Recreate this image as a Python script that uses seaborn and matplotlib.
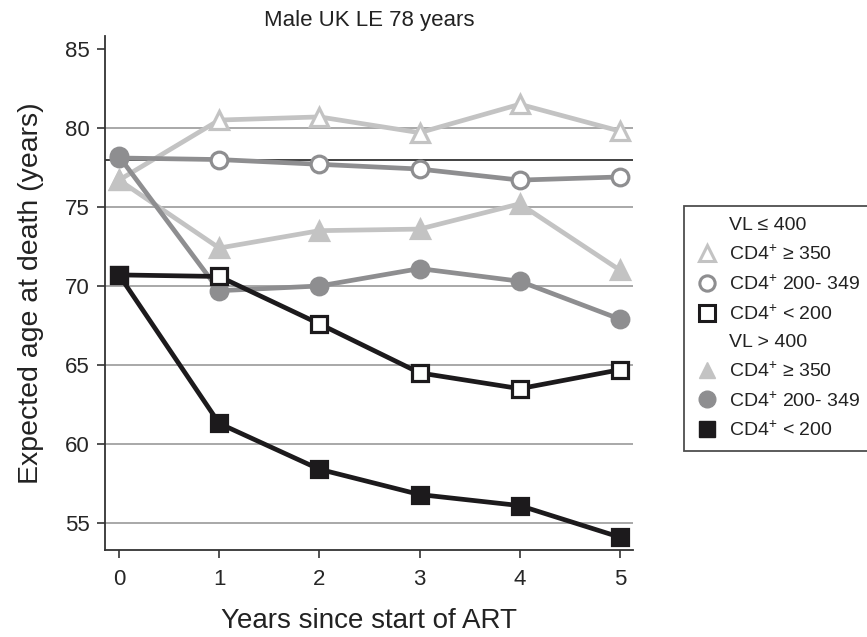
import matplotlib
matplotlib.use("Agg")
import matplotlib.pyplot as plt
import seaborn as sns
import pandas as pd
from matplotlib.lines import Line2D

years = [0, 1, 2, 3, 4, 5]
vl_low_cd4_high = [76.7, 80.5, 80.7, 79.7, 81.5, 79.8]
vl_low_cd4_mid = [78.1, 78.0, 77.7, 77.4, 76.7, 76.9]
vl_low_cd4_low = [70.7, 70.6, 67.6, 64.5, 63.5, 64.7]
vl_high_cd4_high = [76.7, 72.4, 73.5, 73.6, 75.2, 71.0]
vl_high_cd4_mid = [78.2, 69.7, 70.0, 71.1, 70.3, 67.9]
vl_high_cd4_low = [70.7, 61.3, 58.4, 56.8, 56.1, 54.1]
uk_le = 78
yticks = [55, 60, 65, 70, 75, 80, 85]

sns.set_style("white")
plt.rcParams['font.family'] = ['Liberation Sans', 'DejaVu Sans']
plt.rcParams['mathtext.fontset'] = 'custom'
plt.rcParams['mathtext.rm'] = 'Liberation Sans'

LIGHT = "#c3c3c3"
MID = "#8e8e90"
DARK = "#1c1a1c"

fig = plt.figure(figsize=(8.67, 6.37), dpi=100)
ax = fig.add_axes([105/867, 1-550/637, (633-105)/867, (550-36)/637])

for yv in yticks[:-1]:
    ax.axhline(yv, color="#9a9a9a", lw=1.2, zorder=0)
ax.axhline(uk_le, color="#333333", lw=1.3, zorder=0)

series = [
    (vl_low_cd4_high, LIGHT, "^", "white"),
    (vl_low_cd4_mid, MID, "o", "white"),
    (vl_low_cd4_low, DARK, "s", "white"),
    (vl_high_cd4_high, LIGHT, "^", None),
    (vl_high_cd4_mid, MID, "o", None),
    (vl_high_cd4_low, DARK, "s", None),
]
order = [0, 1, 3, 4, 2, 5]
for i in order:
    vals, col, mk, fc = series[i]
    df = pd.DataFrame({"x": years, "y": vals})
    sns.lineplot(data=df, x="x", y="y", ax=ax, color=col, lw=3.4,
                 marker=mk, markersize=12.5 if mk == "^" else 12,
                 markerfacecolor=fc if fc else col, markeredgecolor=col,
                 markeredgewidth=2.3, legend=False, zorder=3)

ax.set_xlim(-0.14, 5.13)
ax.set_ylim(53.29, 85.82)
ax.set_xticks(years)
ax.set_yticks(yticks)
ax.tick_params(axis="both", labelsize=16, direction="out", length=6,
               width=1.2, color="#333333", left=True, bottom=True)
ax.tick_params(axis="x", pad=8)
ax.tick_params(axis="y", pad=5)
for s in ["top", "right"]:
    ax.spines[s].set_visible(False)
for s in ["left", "bottom"]:
    ax.spines[s].set_color("#333333")
    ax.spines[s].set_linewidth(1.3)

ax.set_xlabel("Years since start of ART", fontsize=20, labelpad=13, color="#222222")
ax.set_ylabel("Expected age at death (years)", fontsize=20.5, labelpad=15, color="#222222")
ax.set_title("Male UK LE 78 years", fontsize=16, pad=7, color="#222222")

blank = Line2D([], [], linestyle="none", marker=None)
handles = [
    blank,
    Line2D([], [], linestyle="none", marker="^", markersize=12, mfc="white", mec=LIGHT, mew=2.2),
    Line2D([], [], linestyle="none", marker="o", markersize=11, mfc="white", mec=MID, mew=2.2),
    Line2D([], [], linestyle="none", marker="s", markersize=11, mfc="white", mec=DARK, mew=2.2),
    blank,
    Line2D([], [], linestyle="none", marker="^", markersize=12, mfc=LIGHT, mec=LIGHT),
    Line2D([], [], linestyle="none", marker="o", markersize=12, mfc=MID, mec=MID),
    Line2D([], [], linestyle="none", marker="s", markersize=12, mfc=DARK, mec=DARK),
]
labels = [
    "VL ≤ 400",
    r"CD4$^{+}$ ≥ 350",
    r"CD4$^{+}$ 200- 349",
    r"CD4$^{+}$ < 200",
    "VL > 400",
    r"CD4$^{+}$ ≥ 350",
    r"CD4$^{+}$ 200- 349",
    r"CD4$^{+}$ < 200",
]
leg = fig.legend(handles, labels, loc="upper left",
                 bbox_to_anchor=(684/867, 1-206/637), fontsize=14,
                 frameon=True, fancybox=False, edgecolor="#222222",
                 handletextpad=0.45, labelspacing=0.5, borderpad=0.55,
                 handlelength=1.3, borderaxespad=0)
leg.get_frame().set_linewidth(1.3)
for t in leg.get_texts():
    t.set_color("#222222")

fig.savefig("out.png", dpi=100)
